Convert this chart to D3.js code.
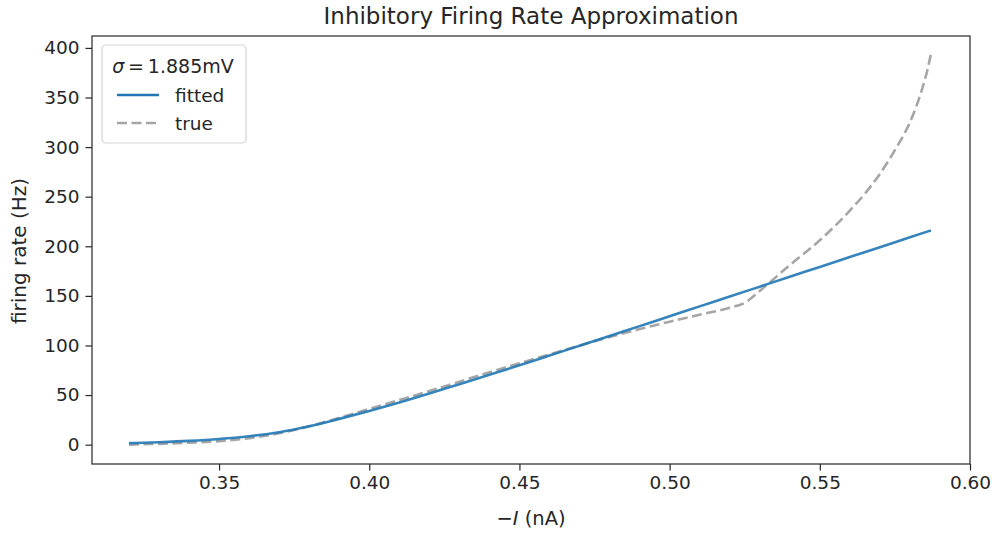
<!DOCTYPE html>
<html>
<head lang="en">
    <meta charset="UTF-8">
    <title>Inhibitory Firing Rate Approximation</title>
    <script type="text/javascript" src="https://cdn.jsdelivr.net/npm/d3@7/dist/d3.min.js"></script>
    <style>
        body { margin: 0; background: #fff; }
        text { font-family: "DejaVu Sans", sans-serif; fill: #262626; }
    </style>
</head>
<body>
<div class="holder"></div>

<script>
    // current values (nA) and rates (Hz)
    var currentFitted = [0.32, 0.33, 0.34, 0.35, 0.36, 0.37, 0.38, 0.39, 0.40, 0.41, 0.42, 0.43, 0.44, 0.45,
        0.46, 0.47, 0.48, 0.49, 0.50, 0.51, 0.52, 0.53, 0.54, 0.55, 0.56, 0.57, 0.58, 0.587];
    var rateFitted = [1.5, 2.5, 3.8, 5.7, 8.5, 12.5, 18.5, 26, 34, 42.5, 51.5, 61, 70.5, 80,
        89.8, 99.7, 109.6, 119.5, 129.4, 139.4, 149.3, 159.3, 169.3, 179.2, 189.2, 199.1, 209.1, 216];

    var currentTrue = [0.32, 0.33, 0.34, 0.35, 0.36, 0.37, 0.38, 0.39, 0.40, 0.41, 0.42, 0.43, 0.44, 0.45,
        0.46, 0.47, 0.48, 0.49, 0.50, 0.51, 0.52, 0.525, 0.53, 0.54, 0.55, 0.56, 0.565, 0.57, 0.575, 0.58,
        0.582, 0.584, 0.586, 0.587];
    var rateTrue = [0, 0.8, 2, 3.5, 6.5, 11.5, 18.5, 27, 36, 45, 54, 63.5, 73, 82,
        91, 100, 108.5, 116.5, 124, 131, 138, 143, 155, 181, 206, 236, 253, 273, 297, 325,
        340, 358, 380, 394];

    var xTicks = [0.35, 0.40, 0.45, 0.50, 0.55, 0.60];
    var yTicks = [0, 50, 100, 150, 200, 250, 300, 350, 400];

    var width = 997, height = 536;
    var m = {left: 92, right: 27, top: 36, bottom: 72};
    var fs = 18.5;

    var svg = d3.select(".holder")
            .append("svg")
            .attr("width", width)
            .attr("height", height);

    var x = d3.scaleLinear()
            .domain([0.3077, 0.6])
            .range([m.left, width - m.right]);
    var y = d3.scaleLinear()
            .domain([-19.5, 412])
            .range([height - m.bottom, m.top]);

    // axes
    var xAxis = svg.append("g")
            .attr("transform", "translate(0," + (height - m.bottom) + ")")
            .call(d3.axisBottom(x).tickValues(xTicks).tickFormat(d3.format(".2f")).tickSize(6.5).tickPadding(5));
    var yAxis = svg.append("g")
            .attr("transform", "translate(" + m.left + ",0)")
            .call(d3.axisLeft(y).tickValues(yTicks).tickSize(6.5).tickPadding(6));

    [xAxis, yAxis].forEach(function (g) {
        g.select(".domain").remove();
        g.selectAll(".tick line").attr("stroke", "#262626").attr("stroke-width", 1.2);
        g.selectAll(".tick text").style("font-size", fs + "px").attr("fill", "#262626");
    });

    // frame
    svg.append("rect")
            .attr("x", m.left)
            .attr("y", m.top)
            .attr("width", width - m.left - m.right)
            .attr("height", height - m.top - m.bottom)
            .attr("fill", "none")
            .attr("stroke", "#262626")
            .attr("stroke-width", 1.2);

    var line = d3.line()
            .x(function (d) { return x(d[0]); })
            .y(function (d) { return y(d[1]); })
            .curve(d3.curveMonotoneX);

    var fitted = d3.zip(currentFitted, rateFitted);
    var truth = d3.zip(currentTrue, rateTrue);

    svg.append("path")
            .datum(truth)
            .attr("d", line)
            .attr("fill", "none")
            .attr("stroke", "#a6a6a6")
            .attr("stroke-width", 2.6)
            .attr("stroke-dasharray", "10,4.5");

    svg.append("path")
            .datum(fitted)
            .attr("d", line)
            .attr("fill", "none")
            .attr("stroke", "#1f77b4")
            .attr("stroke-opacity", 0.9)
            .attr("stroke-width", 2.6);

    // title + labels
    svg.append("text")
            .attr("x", (m.left + width - m.right) / 2)
            .attr("y", 24)
            .attr("text-anchor", "middle")
            .style("font-size", "23px")
            .text("Inhibitory Firing Rate Approximation");

    var xl = svg.append("text")
            .attr("x", (m.left + width - m.right) / 2)
            .attr("y", 525)
            .attr("text-anchor", "middle")
            .style("font-size", "19.5px");
    xl.append("tspan").text("\u2212");
    xl.append("tspan").style("font-style", "italic").text("I");
    xl.append("tspan").text(" (nA)");

    svg.append("text")
            .attr("transform", "translate(26," + ((m.top + height - m.bottom) / 2 + 1) + ") rotate(-90)")
            .attr("text-anchor", "middle")
            .style("font-size", "20px")
            .text("firing rate (Hz)");

    // legend
    var lg = svg.append("g").attr("transform", "translate(102,45)");
    lg.append("rect")
            .attr("width", 144)
            .attr("height", 98)
            .attr("rx", 4)
            .attr("fill", "#fff")
            .attr("fill-opacity", 0.8)
            .attr("stroke", "#d5d5d5")
            .attr("stroke-width", 1.2);

    var lt = lg.append("text")
            .attr("x", 71)
            .attr("y", 28)
            .attr("text-anchor", "middle")
            .style("font-size", "19px");
    lt.append("tspan").style("font-style", "italic").text("\u03c3");
    lt.append("tspan").text("\u2009=\u20091.885mV");

    var items = [
        {label: "fitted", color: "#1f77b4", dash: null},
        {label: "true", color: "#a6a6a6", dash: "10,4.5"}
    ];
    items.forEach(function (d, i) {
        var yy = 50 + i * 28;
        lg.append("line")
                .attr("x1", 15).attr("x2", 57)
                .attr("y1", yy).attr("y2", yy)
                .attr("stroke", d.color)
                .attr("stroke-width", 2.6)
                .attr("stroke-dasharray", d.dash);
        lg.append("text")
                .attr("x", 73)
                .attr("y", yy + 7)
                .style("font-size", fs + "px")
                .text(d.label);
    });
</script>
</body>
</html>
